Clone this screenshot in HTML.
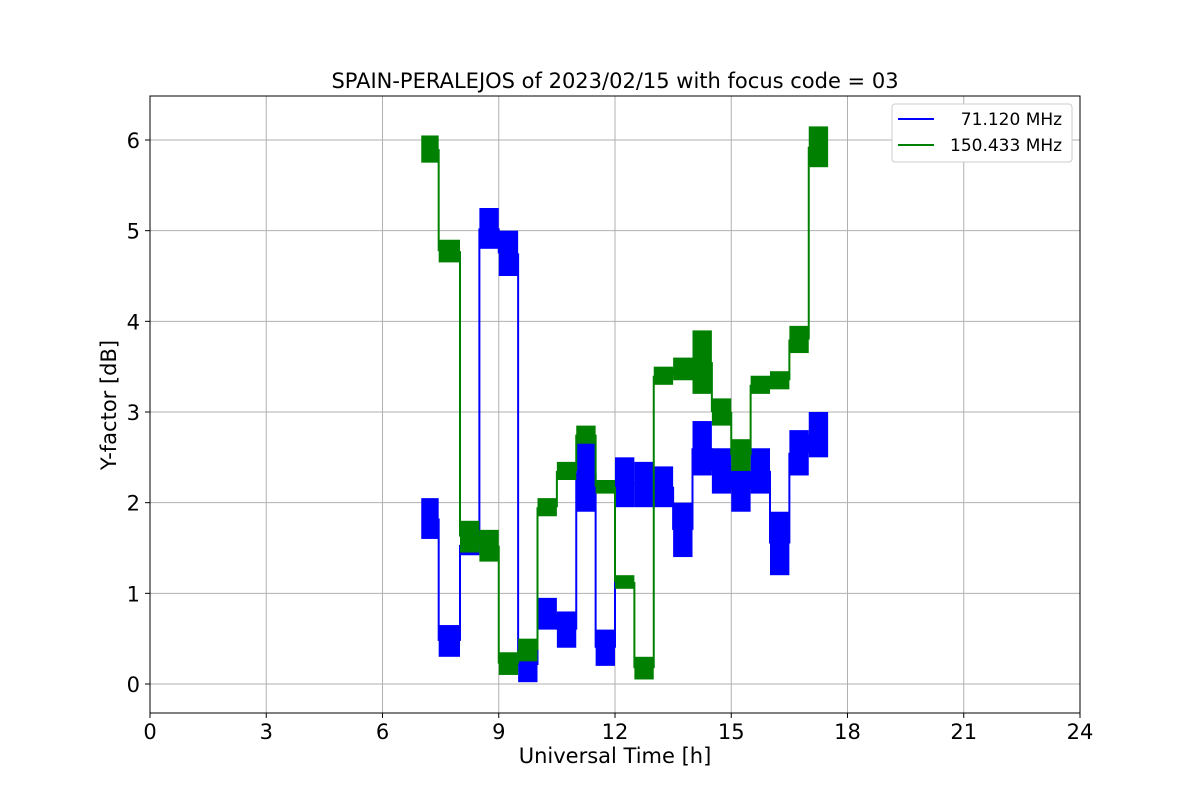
<!DOCTYPE html>
<html><head><meta charset="utf-8"><style>
body{margin:0;background:#fff;}
svg{font-family:"DejaVu Sans","Liberation Sans",sans-serif;}
</style></head><body>
<svg id="chart" width="1200" height="800" xmlns="http://www.w3.org/2000/svg">
<rect width="1200" height="800" fill="#fff"/>
<text x="615" y="88" text-anchor="middle" font-size="21">SPAIN-PERALEJOS of 2023/02/15 with focus code = 03</text>
<g id="grid"></g>
<g id="series"></g>
<rect x="150" y="96" width="930" height="617" fill="none" stroke="#000" stroke-width="1"/>
<g id="ticks"></g>
<text x="615" y="763" text-anchor="middle" font-size="21">Universal Time [h]</text>
<text transform="translate(116,405) rotate(-90)" text-anchor="middle" font-size="21">Y-factor [dB]</text>
<g>
<rect x="892" y="104" width="180" height="58" rx="3" fill="#fff" stroke="#ccc"/>
<line x1="898" y1="119" x2="934" y2="119" stroke="#0000ff" stroke-width="2"/>
<text x="950" y="125" font-size="17" xml:space="preserve">  71.120 MHz</text>
<line x1="898" y1="145" x2="934" y2="145" stroke="#008000" stroke-width="2"/>
<text x="950" y="151" font-size="17">150.433 MHz</text>
</g>
</svg>
<script>
const xTicks=[0,3,6,9,12,15,18,21,24];
const yTicks=[0,1,2,3,4,5,6];
const segStart=[7.0,7.45,8.0,8.5,9.0,9.5,10.0,10.5,11.0,11.5,12.0,12.5,13.0,13.5,14.0,14.5,15.0,15.5,16.0,16.5,17.0];
const segEnd=[7.45,8.0,8.5,9.0,9.5,10.0,10.5,11.0,11.5,12.0,12.5,13.0,13.5,14.0,14.5,15.0,15.5,16.0,16.5,17.0,17.5];
const blueLow=[1.6,0.3,1.42,4.8,4.5,0.02,0.6,0.4,1.9,0.2,1.95,1.95,1.95,1.4,2.3,2.1,1.9,2.1,1.2,2.3,2.5];
const blueHigh=[2.05,0.65,1.65,5.25,5.0,0.4,0.95,0.8,2.75,0.6,2.5,2.45,2.4,2.0,2.9,2.6,2.4,2.6,1.9,2.8,3.0];
const greenLow=[5.75,4.65,1.45,1.35,0.1,0.25,1.85,2.25,2.65,2.1,1.05,0.05,3.3,3.35,3.2,2.85,2.35,3.2,3.25,3.65,5.7];
const greenHigh=[6.05,4.9,1.8,1.7,0.35,0.5,2.05,2.45,2.85,2.25,1.2,0.3,3.5,3.6,3.9,3.15,2.7,3.4,3.45,3.95,6.15];
const X=t=>150+t*(930/24);
const Y=v=>684-v*(544/6);
const NS="http://www.w3.org/2000/svg";
function mk(tag,attrs,parent){const e=document.createElementNS(NS,tag);for(const k in attrs)e.setAttribute(k,attrs[k]);parent.appendChild(e);return e;}
const grid=document.getElementById('grid'),ticks=document.getElementById('ticks'),ser=document.getElementById('series');
xTicks.forEach(t=>{
 const g=mk('line',{x1:X(t),x2:X(t),y1:96,y2:713,stroke:'#b0b0b0','stroke-width':1},grid);
 
 
 mk('line',{x1:X(t),x2:X(t),y1:713,y2:718,stroke:'#000'},ticks);
 const l=mk('text',{x:X(t),y:739,'text-anchor':'middle','font-size':21},ticks);l.textContent=t;
 
 
});
yTicks.forEach(v=>{
 const g=mk('line',{x1:150,x2:1080,y1:Y(v),y2:Y(v),stroke:'#b0b0b0','stroke-width':1},grid);
 
 
 mk('line',{x1:145,x2:150,y1:Y(v),y2:Y(v),stroke:'#000'},ticks);
 const l=mk('text',{x:140,y:Y(v)+8,'text-anchor':'end','font-size':21},ticks);l.textContent=v;
 
 
});
function drawSeries(lo,hi,color,name){
 const g=mk('g',{},ser);
 
 
 let d='';
 for(let i=0;i<segStart.length;i++){
  const r=mk('rect',{x:X(segStart[i]),y:Y(hi[i]),width:X(segEnd[i])-X(segStart[i]),height:Y(lo[i])-Y(hi[i]),fill:color},g);
  
  
  if(i>0){const m0=(lo[i-1]+hi[i-1])/2,m1=(lo[i]+hi[i])/2;d+=`M${X(segStart[i])},${Y(m0)}L${X(segStart[i])},${Y(m1)}`;}
 }
 const p=mk('path',{d:d,stroke:color,'stroke-width':2,fill:'none'},g);
 
 
}
drawSeries(blueLow,blueHigh,'#0000ff','series-71mhz');
drawSeries(greenLow,greenHigh,'#008000','series-150mhz');
</script>
</body></html>
